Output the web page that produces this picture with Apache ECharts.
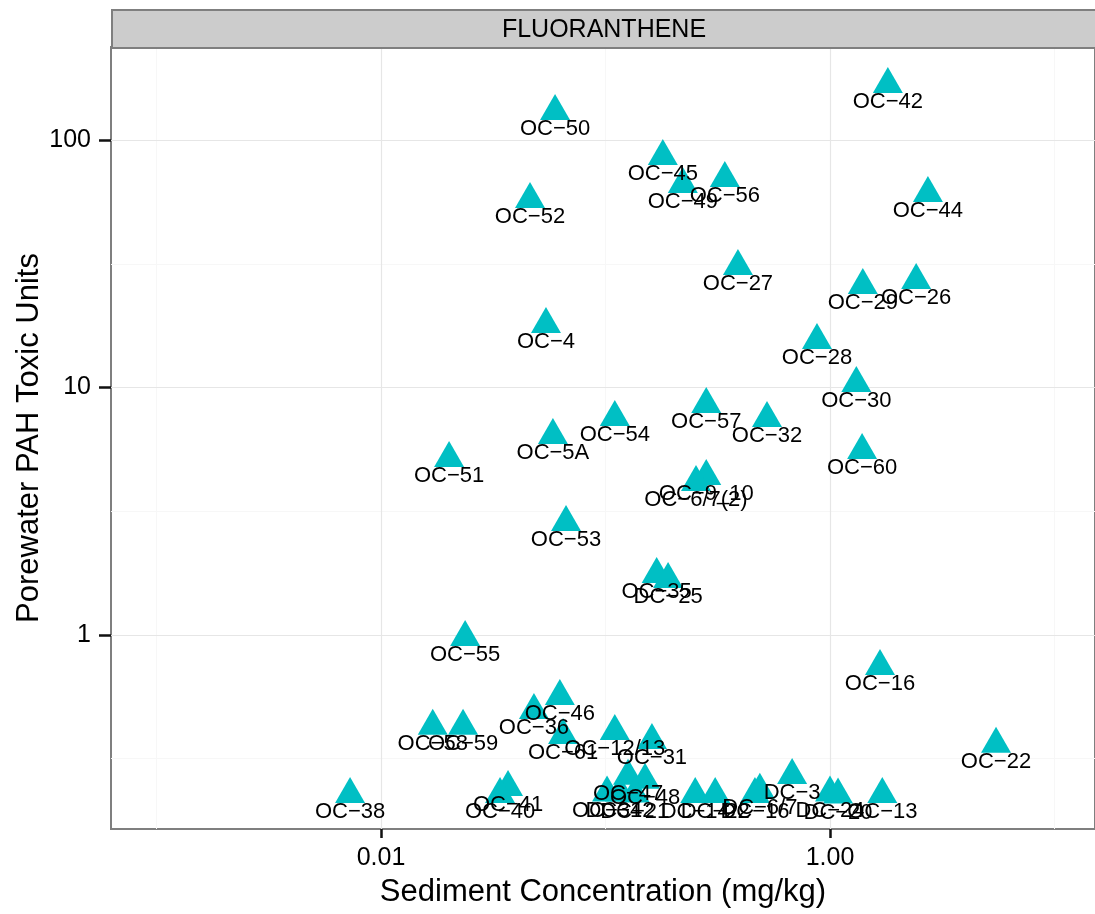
<!DOCTYPE html>
<html>
<head>
<meta charset="utf-8">
<script src="https://cdn.jsdelivr.net/npm/echarts@6/dist/echarts.min.js"></script>
<style>
html,body{margin:0;padding:0;background:#fff;}
#chart{width:1095px;height:914px;}
</style>
</head>
<body>
<div id="chart"></div>
<script>
// ---- data ----
const stationNames = [
  'OC−42','OC−50','OC−45','OC−49','OC−56','OC−52','OC−44','OC−27','OC−29','OC−26',
  'OC−4','OC−28','OC−30','OC−57','OC−54','OC−32','OC−5A','OC−60','OC−51','OC−9_10',
  'OC−6/7(2)','OC−53','OC−35','DC−25','OC−55','OC−16','OC−22','OC−46','OC−36','OC−58',
  'OC−59','OC−61','OC−12/13','OC−31','OC−38','OC−41','OC−40','OC−47','OC−48','OC−34',
  'DC−12','DC−21','DC−14','DC−22','DC−16','DC−6/7','DC−3','DC−24','DC−20','OC−13'
];
const sedimentConc = [
  1.81, 0.0596, 0.180, 0.221, 0.340, 0.0461, 2.73, 0.389, 1.40, 2.42,
  0.0543, 0.875, 1.31, 0.281, 0.110, 0.524, 0.0583, 1.39, 0.0201, 0.281,
  0.253, 0.0667, 0.169, 0.190, 0.0237, 1.67, 5.49, 0.0626, 0.0480, 0.0170,
  0.0232, 0.0647, 0.110, 0.161, 0.00728, 0.0368, 0.0339, 0.126, 0.150, 0.1016,
  0.116, 0.135, 0.251, 0.308, 0.463, 0.487, 0.678, 1.00, 1.086, 1.71
];
const toxicUnits = [
  168, 130.6, 85.9, 66.2, 70.0, 57.6, 60.9, 30.9, 25.9, 27.1,
  18.0, 15.5, 10.4, 8.55, 7.58, 7.51, 6.41, 5.57, 5.18, 4.38,
  4.14, 2.85, 1.76, 1.68, 0.979, 0.747, 0.362, 0.565, 0.496, 0.428,
  0.428, 0.393, 0.408, 0.375, 0.227, 0.2425, 0.227, 0.269, 0.259, 0.230,
  0.230, 0.228, 0.227, 0.227, 0.227, 0.236, 0.271, 0.230, 0.226, 0.227
];
// axis breaks / labels / limits
const xMajorBreaks = [0.01, 1];
const xTickLabels = ['0.01', '1.00'];
const xMinorBreaks = [0.001, 0.1, 10];
const yMajorBreaks = [1, 10, 100];
const yTickLabels = ['1', '10', '100'];
const yMinorBreaks = [0.3162, 3.162, 31.62];
const xLimits = [0.000627, 15.15];
const yLimits = [0.1644, 237.7];
const panelTitle = 'FLUORANTHENE';
const xTitle = 'Sediment Concentration (mg/kg)';
const yTitle = 'Porewater PAH Toxic Units';

// ---- build ----
const L = Math.log10;
const FONT = 'Liberation Sans, Arial, Helvetica, sans-serif';
const xMajorLog = xMajorBreaks.map(L), yMajorLog = yMajorBreaks.map(L);
const labelFor = (vals, labs) => (v) => {
  for (let i = 0; i < vals.length; i++) if (Math.abs(vals[i] - v) < 1e-6) return labs[i];
  return '';
};
const points = stationNames.map((n, i) => ({ name: n, value: [L(sedimentConc[i]), L(toxicUnits[i])] }));

const gridLines = [];
xMinorBreaks.forEach(v => gridLines.push({ xAxis: L(v), lineStyle: { color: '#f7f7f7', width: 1, type: 'solid' } }));
yMinorBreaks.forEach(v => gridLines.push({ yAxis: L(v), lineStyle: { color: '#f7f7f7', width: 1, type: 'solid' } }));
xMajorBreaks.forEach(v => gridLines.push({ xAxis: L(v), lineStyle: { color: '#e6e6e6', width: 1.2, type: 'solid' } }));
yMajorBreaks.forEach(v => gridLines.push({ yAxis: L(v), lineStyle: { color: '#e6e6e6', width: 1.2, type: 'solid' } }));

const chart = echarts.init(document.getElementById('chart'), null, { renderer: 'canvas' });
chart.setOption({
  animation: false,
  backgroundColor: '#ffffff',
  textStyle: { fontFamily: FONT },
  grid: { left: 111, top: 47, width: 986, height: 782, show: true, borderColor: '#7f7f7f', borderWidth: 2, backgroundColor: '#ffffff', containLabel: false },
  graphic: [
    { type: 'rect', left: 111, top: 9, shape: { width: 986, height: 38 }, style: { fill: '#cccccc', stroke: '#7f7f7f', lineWidth: 2 }, z: 10 },
    { type: 'text', x: 604, y: 30, style: { text: panelTitle, fontSize: 25, fontFamily: FONT, fill: '#000', align: 'center', verticalAlign: 'middle' }, z: 11 }
  ],
  xAxis: {
    type: 'value', min: L(xLimits[0]), max: L(xLimits[1]),
    name: xTitle, nameLocation: 'middle', nameGap: 48,
    nameTextStyle: { fontSize: 31, color: '#000', fontFamily: FONT },
    axisLine: { show: true, onZero: false, lineStyle: { color: '#7f7f7f', width: 2 } },
    axisTick: { show: true, inside: false, length: 9, customValues: xMajorLog, lineStyle: { color: '#111111', width: 2.5 } },
    axisLabel: { customValues: xMajorLog, formatter: labelFor(xMajorLog, xTickLabels), fontSize: 25, color: '#000', margin: 17, fontFamily: FONT },
    splitLine: { show: false }
  },
  yAxis: {
    type: 'value', min: L(yLimits[0]), max: L(yLimits[1]),
    name: yTitle, nameLocation: 'middle', nameGap: 66, nameRotate: 90, nameMoveOverlap: false,
    nameTextStyle: { fontSize: 31, color: '#000', fontFamily: FONT },
    axisLine: { show: true, onZero: false, lineStyle: { color: '#7f7f7f', width: 2 } },
    axisTick: { show: true, inside: false, length: 12, customValues: yMajorLog, lineStyle: { color: '#111111', width: 2.5 } },
    axisLabel: { customValues: yMajorLog, formatter: labelFor(yMajorLog, yTickLabels), fontSize: 25, color: '#000', margin: 20, fontFamily: FONT },
    splitLine: { show: false }
  },
  series: [
    {
      type: 'scatter', data: [], silent: true,
      markLine: { silent: true, symbol: 'none', z: 1, label: { show: false }, data: gridLines, animation: false }
    },
    {
      type: 'scatter', z: 3,
      data: points,
      symbol: 'triangle', symbolSize: [30, 26], symbolOffset: [0, -4.3],
      itemStyle: { color: '#00BFC4', opacity: 1 },
      label: { show: true, formatter: '{b}', position: 'bottom', distance: -2, lineHeight: 22, fontSize: 22, color: '#000', fontFamily: FONT },
      labelLayout: { hideOverlap: false }
    }
  ]
});
</script>
</body>
</html>
